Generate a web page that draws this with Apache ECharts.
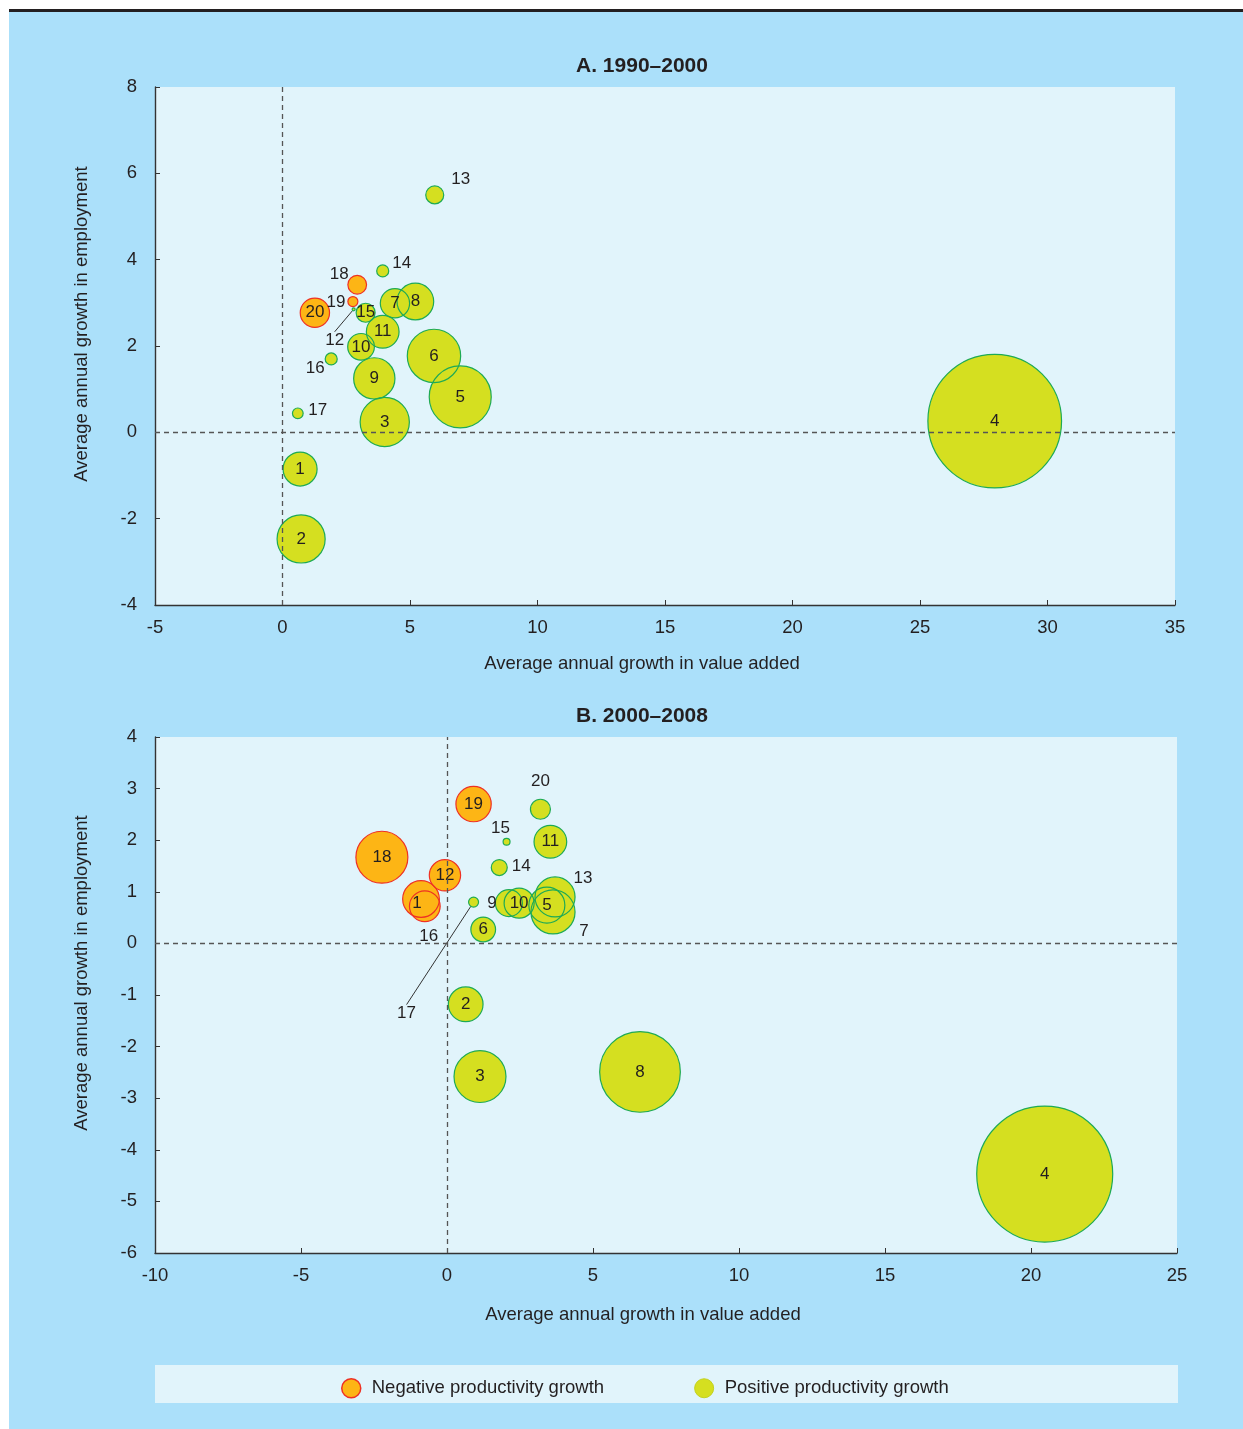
<!DOCTYPE html>
<html>
<head>
<meta charset="utf-8">
<script src="https://cdn.jsdelivr.net/npm/echarts@6/dist/echarts.min.js"></script>
<style>
  html, body { margin: 0; background: #fff; }
  #chart { width: 1243px; height: 1429px; }
</style>
</head>
<body>
<div id="chart"></div>
<script>
// sector ids 1..20
const sectors = [1, 2, 3, 4, 5, 6, 7, 8, 9, 10, 11, 12, 13, 14, 15, 16, 17, 18, 19, 20];

// A. 1990-2000
const aValueAdded = [0.69, 0.73, 4.01, 27.93, 6.97, 5.94, 4.41, 5.21, 3.60, 3.08, 3.93, 2.79, 5.97, 3.93, 3.26, 1.91, 0.60, 2.93, 2.76, 1.27];
const aEmployment = [-0.85, -2.47, 0.24, 0.26, 0.82, 1.77, 2.99, 3.03, 1.25, 1.98, 2.33, 2.85, 5.50, 3.74, 2.77, 1.70, 0.44, 3.42, 3.03, 2.77];
const aWeight = [6.25, 12.5, 13.1, 96.6, 20.8, 15.4, 4.64, 7.28, 9.22, 3.85, 5.78, 0.05, 1.75, 0.78, 1.95, 0.78, 0.62, 1.89, 0.54, 4.64];
const aNegative = [18, 19, 20];

// B. 2000-2008
const bValueAdded = [-0.89, 0.64, 1.13, 20.47, 3.42, 1.24, 3.63, 6.61, 2.12, 2.47, 3.54, -0.07, 3.70, 1.79, 2.04, -0.76, 0.91, -2.23, 0.91, 3.20];
const bEmployment = [0.86, -1.18, -2.58, -4.47, 0.74, 0.27, 0.61, -2.49, 0.78, 0.78, 1.97, 1.32, 0.90, 1.47, 1.97, 0.72, 0.80, 1.67, 2.70, 2.60];
const bWeight = [7.28, 6.51, 14.6, 100, 7.0, 3.3, 10.5, 35.2, 3.94, 4.87, 5.78, 5.3, 8.65, 1.38, 0.26, 5.1, 0.54, 14.6, 6.74, 2.16];
const bNegative = [1, 12, 16, 18, 19];

const NEG = "Negative productivity growth";
const POS = "Positive productivity growth";
const FONT = "Liberation Sans, Arial, sans-serif";
const TXT = "#231f20";

// label nudges (px) for bubbles whose number sits outside
const labelNudge = [
  { 13: [26, -16], 14: [19, -8], 18: [-18, -10], 19: [-17, 1], 12: [-19, 31], 16: [-16, 9], 17: [20, -3] },
  { 20: [0, -28], 15: [-6, -13], 14: [22, -1], 13: [28, -19], 7: [31, 19], 9: [-17, 0], 16: [4, 30], 17: [-67, 111], 1: [-4, 4] },
];
const leaders = [[12], [17]];

const panels = [
  { x: aValueAdded, y: aEmployment, w: aWeight, neg: aNegative },
  { x: bValueAdded, y: bEmployment, w: bWeight, neg: bNegative },
];

const bubbleSize = (v) => 136 * Math.sqrt(v[2] / 100);

function items(p, pi, negative) {
  const out = [];
  sectors.forEach((id, i) => {
    if (p.neg.includes(id) !== negative) return;
    const item = { value: [p.x[i], p.y[i], p.w[i], id] };
    if (leaders[pi].includes(id)) {
      item.labelLine = { show: true, lineStyle: { color: "#333", width: 1 } };
    }
    out.push(item);
  });
  return out;
}

const series = [];
panels.forEach((p, pi) => {
  series.push({
    type: "scatter",
    xAxisIndex: pi,
    yAxisIndex: pi,
    data: [],
    z: 1,
    silent: true,
    markLine: {
      silent: true,
      symbol: ["none", "none"],
      animation: false,
      label: { show: false },
      lineStyle: { type: [5, 4], color: "#555", width: 1.3 },
      data: [{ xAxis: 0 }, { yAxis: 0 }],
    },
  });
  [true, false].forEach((negative) => {
    series.push({
      name: negative ? NEG : POS,
      type: "scatter",
      xAxisIndex: pi,
      yAxisIndex: pi,
      z: 2,
      symbolSize: bubbleSize,
      itemStyle: { color: negative ? "#fdb515" : "#d5df20", opacity: 1 },
      emphasis: { disabled: true },
      data: items(p, pi, negative),
    });
  });
  [true, false].forEach((negative) => {
    series.push({
      name: negative ? NEG : POS,
      type: "scatter",
      xAxisIndex: pi,
      yAxisIndex: pi,
      z: 3,
      symbolSize: bubbleSize,
      itemStyle: {
        color: "rgba(0,0,0,0)",
        borderColor: negative ? "#ee3124" : "#1eaa55",
        borderWidth: 1.2,
        opacity: 1,
      },
      emphasis: { disabled: true },
      label: {
        show: true,
        position: "inside",
        formatter: (d) => String(d.value[3]),
        color: TXT,
        fontSize: 17,
        fontFamily: FONT,
      },
      labelLine: { show: false },
      labelLayout: (params) => {
        const o = labelNudge[pi][params.text];
        return o ? { dx: o[0], dy: o[1] } : {};
      },
      data: items(p, pi, negative),
    });
  });
});

const axisCommon = {
  splitLine: { show: false },
  axisLine: { onZero: false, lineStyle: { color: "#333", width: 1.4 } },
  axisTick: { inside: true, length: 5, lineStyle: { color: "#333" } },
  axisLabel: { color: TXT, fontSize: 18.5, fontFamily: FONT },
  nameLocation: "middle",
};
const xName = { color: TXT, fontSize: 18.5, fontFamily: FONT, padding: [0, 46, 0, 0] };
const yName = { color: TXT, fontSize: 18.5, fontFamily: FONT, padding: [0, 0, 0, 44] };

const option = {
  animation: false,
  textStyle: { fontFamily: FONT },
  grid: [
    { left: 155, right: 68, top: 87, height: 518, show: true, backgroundColor: "#e1f4fb", borderWidth: 0 },
    { left: 155, right: 66, top: 737, height: 516, show: true, backgroundColor: "#e1f4fb", borderWidth: 0 },
  ],
  xAxis: [
    { ...axisCommon, gridIndex: 0, type: "value", min: -5, max: 35, interval: 5, name: "Average annual growth in value added", nameGap: 49, nameTextStyle: xName, axisLabel: { ...axisCommon.axisLabel, margin: 13 } },
    { ...axisCommon, gridIndex: 1, type: "value", min: -10, max: 25, interval: 5, name: "Average annual growth in value added", nameGap: 52, nameTextStyle: xName, axisLabel: { ...axisCommon.axisLabel, margin: 13 } },
  ],
  yAxis: [
    { ...axisCommon, gridIndex: 0, type: "value", min: -4, max: 8, interval: 2, name: "Average annual growth in employment", nameGap: 64, nameTextStyle: yName, axisLabel: { ...axisCommon.axisLabel, margin: 18 } },
    { ...axisCommon, gridIndex: 1, type: "value", min: -6, max: 4, interval: 1, name: "Average annual growth in employment", nameGap: 64, nameTextStyle: yName, axisLabel: { ...axisCommon.axisLabel, margin: 18 } },
  ],
  legend: {
    left: 336,
    top: 1373,
    itemWidth: 19,
    itemHeight: 21,
    itemGap: 90,
    selectedMode: false,
    textStyle: { color: TXT, fontSize: 18.5, fontFamily: FONT, padding: [0, 0, 0, 6] },
    data: [
      { name: NEG, icon: "circle", itemStyle: { color: "#fdb515", borderColor: "#ee3124", borderWidth: 1.5 } },
      { name: POS, icon: "circle", itemStyle: { color: "#d5df20", borderColor: "#c3d11f", borderWidth: 1 } },
    ],
  },
  graphic: [
    { type: "rect", z: -100, silent: true, shape: { x: 9, y: 12, width: 1234, height: 1417 }, style: { fill: "#abe0fa" } },
    { type: "rect", z: -100, silent: true, shape: { x: 9, y: 9, width: 1234, height: 3 }, style: { fill: "#231f20" } },
    { type: "rect", z: -50, silent: true, shape: { x: 155, y: 1365, width: 1023, height: 38 }, style: { fill: "#e1f4fb" } },
    { type: "text", x: 642, y: 66, silent: true, style: { text: "A. 1990–2000", fill: TXT, font: "bold 21px " + FONT, textAlign: "center", textVerticalAlign: "middle" } },
    { type: "text", x: 642, y: 716, silent: true, style: { text: "B. 2000–2008", fill: TXT, font: "bold 21px " + FONT, textAlign: "center", textVerticalAlign: "middle" } },
  ],
  series,
};

const chart = echarts.init(document.getElementById("chart"), null, { renderer: "canvas" });
chart.setOption(option);
</script>
</body>
</html>
